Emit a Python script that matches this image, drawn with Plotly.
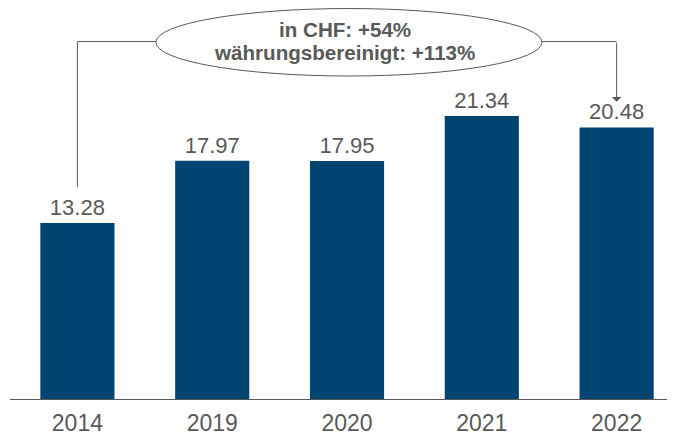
import plotly.graph_objects as go

years = ["2014", "2019", "2020", "2021", "2022"]
values = [13.28, 17.97, 17.95, 21.34, 20.48]
labels = ["13.28", "17.97", "17.95", "21.34", "20.48"]
note_lines = ["in CHF: +54%", "währungsbereinigt: +113%"]

BAR = "#004571"
GREY = "#595959"
FONT = "Liberation Sans, Arial, sans-serif"

fig = go.Figure(go.Bar(
    x=list(range(len(years))), y=values, text=labels,
    textposition="outside", cliponaxis=False,
    textfont=dict(size=22, color=GREY, family=FONT),
    marker=dict(color=BAR, line=dict(width=0)), width=0.55,
))

line_y = 26.96
first, last = 0, len(years) - 1
ell_x0, ell_x1, ell_y0, ell_y1 = 0.582, 3.446, 24.36, 29.45
lc = dict(color=GREY, width=1)
shapes = [
    dict(type="line", xref="x", yref="y", x0=first, x1=first, y0=values[first] + 2.7, y1=line_y, line=lc),
    dict(type="line", xref="x", yref="y", x0=first, x1=ell_x0, y0=line_y, y1=line_y, line=lc),
    dict(type="line", xref="x", yref="y", x0=ell_x1, x1=last, y0=line_y, y1=line_y, line=lc),
    dict(type="circle", xref="x", yref="y", x0=ell_x0, x1=ell_x1, y0=ell_y0, y1=ell_y1,
         line=lc, fillcolor="white"),
]
cx = 1.984
annotations = [
    dict(x=last, y=values[last] + 1.94, ax=last, ay=line_y, xref="x", yref="y", axref="x", ayref="y",
         showarrow=True, arrowhead=1, arrowsize=1.6, arrowwidth=1, arrowcolor=GREY, text=""),
    dict(x=cx, y=27.90, xref="x", yref="y", showarrow=False,
         text="<b>" + note_lines[0] + "</b>",
         font=dict(size=20.6, color=GREY, family=FONT)),
    dict(x=cx, y=26.13, xref="x", yref="y", showarrow=False,
         text="<b>" + note_lines[1] + "</b>",
         font=dict(size=20.6, color=GREY, family=FONT)),
]

fig.update_layout(
    width=667, height=429, margin=dict(l=2, r=0, t=0, b=38),
    paper_bgcolor="white", plot_bgcolor="white", showlegend=False,
    shapes=shapes, annotations=annotations,
    xaxis=dict(range=[-0.5, 4.433], tickvals=list(range(len(years))), ticktext=years,
               showline=True, linecolor=GREY, linewidth=1, showgrid=False, zeroline=False,
               ticks="", ticklabelstandoff=3, automargin=False,
               tickfont=dict(size=23, color=GREY, family=FONT)),
    yaxis=dict(range=[0, 29.49], visible=False, showgrid=False, zeroline=False),
)
fig.write_html("out.html")
